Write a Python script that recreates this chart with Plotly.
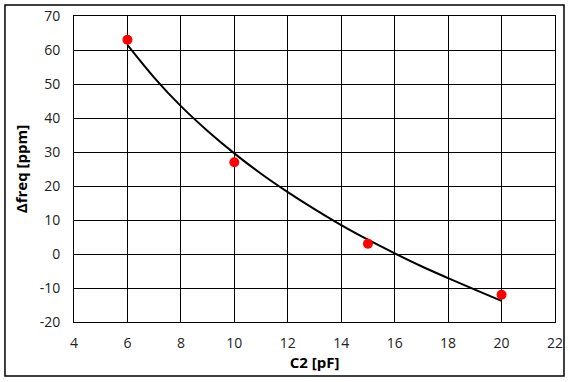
import plotly.graph_objects as go

# Measured points
c2_pf = [6, 10, 15, 20]
dfreq_ppm = [63, 27, 3, -12]

# Trend curve
curve_x = [6, 7, 8, 9, 10, 11, 12, 13, 14, 15, 16, 17, 18, 19, 20]
curve_y = [61.5, 51.9, 43.5, 36.2, 29.6, 23.6, 18.2, 13.2, 8.5, 4.2, 0.2, -3.6, -7.1, -10.5, -13.8]

x_ticks = [4, 6, 8, 10, 12, 14, 16, 18, 20, 22]
x_tick_labels = ["4", "6", "8", "10", "12", "14", "16", "18", "20", "22"]
y_ticks = [-20, -10, 0, 10, 20, 30, 40, 50, 60, 70]
y_tick_labels = ["-20", "-10", "0", "10", "20", "30", "40", "50", "60", "70"]

font_family = "Open Sans"

fig = go.Figure()
fig.add_trace(go.Scatter(x=curve_x, y=curve_y, mode="lines",
                         line=dict(color="black", width=2, shape="spline"),
                         hoverinfo="skip", showlegend=False))
fig.add_trace(go.Scatter(x=c2_pf, y=dfreq_ppm, mode="markers",
                         marker=dict(color="#ff0000", size=10),
                         showlegend=False))

axis_common = dict(showgrid=True, gridcolor="black", gridwidth=1,
                   showline=True, linecolor="black", linewidth=1, mirror=True,
                   zeroline=False, ticks="outside", tickcolor="rgba(0,0,0,0)",
                   tickfont=dict(family=font_family, size=14, color="#222"))

fig.update_xaxes(range=[4, 22], tickvals=x_ticks, ticktext=x_tick_labels, ticklen=8,
                 title=dict(text="<b>C2 [pF]</b>", standoff=6,
                            font=dict(family=font_family, size=15, color="black")),
                 **axis_common)
fig.update_yaxes(range=[-20, 70], tickvals=y_ticks, ticktext=y_tick_labels, ticklen=10,
                 title=dict(text="<b>Δfreq [ppm]</b>", standoff=8,
                            font=dict(family=font_family, size=15, color="black")),
                 **axis_common)

fig.update_layout(width=571, height=382,
                  margin=dict(l=74, r=16, t=16, b=60, autoexpand=False),
                  plot_bgcolor="white", paper_bgcolor="white",
                  font=dict(family=font_family),
                  shapes=[dict(type="rect", xref="paper", yref="paper",
                               x0=-0.1435, x1=1.0187, y0=-0.1765, y1=1.036,
                               line=dict(color="black", width=1.5),
                               fillcolor="rgba(0,0,0,0)", layer="below")])

fig.write_html("out.html", config={"displayModeBar": False},
               post_script="document.body.style.margin='0';document.body.style.overflow='hidden';")
